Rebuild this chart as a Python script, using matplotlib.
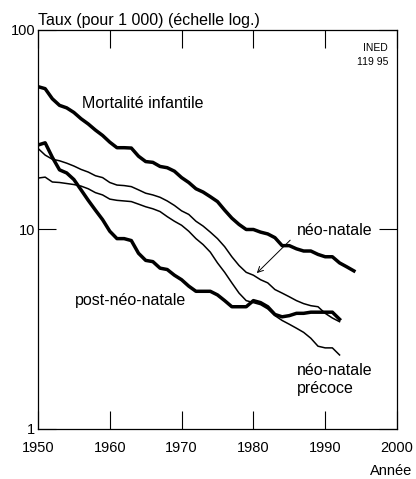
import matplotlib
matplotlib.use('Agg')
import matplotlib.pyplot as plt
from matplotlib.ticker import FixedLocator, NullLocator, FixedFormatter

plt.rcParams['font.family'] = ['Liberation Sans', 'DejaVu Sans']

years_inf = list(range(1950, 1995))
mort_infantile = [52.0, 50.8, 45.2, 41.9, 40.7, 38.6, 35.9, 33.8, 31.5, 29.6,
                  27.4, 25.7, 25.7, 25.6, 23.3, 21.9, 21.7, 20.7, 20.4, 19.6,
                  18.2, 17.2, 16.0, 15.4, 14.6, 13.8, 12.5, 11.4, 10.6, 10.0,
                  10.0, 9.7, 9.5, 9.1, 8.3, 8.3, 8.0, 7.8, 7.8, 7.5,
                  7.3, 7.3, 6.8, 6.5, 6.2]

years = list(range(1950, 1993))
post_neo = [26.5, 27.2, 23.0, 19.9, 19.2, 17.8, 15.8, 14.0, 12.5, 11.2,
            9.8, 9.0, 9.0, 8.8, 7.6, 7.0, 6.9, 6.4, 6.3, 5.9,
            5.6, 5.2, 4.9, 4.9, 4.9, 4.7, 4.4, 4.1, 4.1, 4.1,
            4.4, 4.3, 4.1, 3.75, 3.65, 3.7, 3.8, 3.8, 3.85, 3.85,
            3.85, 3.85, 3.55]
neo = [25.5, 23.6, 22.5, 22.1, 21.5, 20.8, 20.0, 19.4, 18.6, 18.2,
       17.2, 16.7, 16.6, 16.4, 15.8, 15.2, 14.9, 14.5, 13.9, 13.2,
       12.4, 11.9, 11.0, 10.4, 9.7, 9.0, 8.2, 7.3, 6.6, 6.1,
       5.9, 5.6, 5.4, 5.0, 4.8, 4.6, 4.4, 4.25, 4.15, 4.1,
       3.8, 3.6, 3.45]
neo_precoce = [18.1, 18.3, 17.3, 17.2, 17.0, 16.8, 16.5, 16.0, 15.3, 14.9,
               14.2, 14.0, 13.9, 13.8, 13.4, 13.0, 12.7, 12.3, 11.6, 11.0,
               10.5, 9.8, 9.0, 8.4, 7.7, 6.8, 6.1, 5.4, 4.8, 4.4,
               4.3, 4.2, 4.0, 3.7, 3.5, 3.35, 3.2, 3.05, 2.85, 2.6,
               2.55, 2.55, 2.35]

x_ticks = [1950, 1960, 1970, 1980, 1990, 2000]
y_ticks = [1, 10, 100]
y_labels = ['1', '10', '100']

fig = plt.figure(figsize=(4.16, 4.79), dpi=100)
ax = fig.add_axes([0.0913, 0.1044, 0.863, 0.833])

ax.plot(years_inf, mort_infantile, color='black', lw=2.5, solid_joinstyle='round')
ax.plot(years, post_neo, color='black', lw=2.5, solid_joinstyle='round')
ax.plot(years, neo, color='black', lw=1.1)
ax.plot(years, neo_precoce, color='black', lw=1.1)

ax.set_yscale('log')
ax.set_xlim(1950, 2000)
ax.set_ylim(1, 100)
ax.xaxis.set_major_locator(FixedLocator(x_ticks))
ax.xaxis.set_minor_locator(NullLocator())
ax.yaxis.set_major_locator(FixedLocator(y_ticks))
ax.yaxis.set_major_formatter(FixedFormatter(y_labels))
ax.yaxis.set_minor_locator(NullLocator())
ax.tick_params(direction='in', length=13, width=0.8, top=True, right=True,
               labelsize=10.5)
ax.tick_params(axis='x', pad=9)
ax.tick_params(axis='y', pad=2)
for s in ax.spines.values():
    s.set_linewidth(0.9)

ax.text(1956.1, 43, 'Mortalité infantile', fontsize=11.5, va='center', ha='left')
ax.text(1955.1, 4.43, 'post-néo-natale', fontsize=11.5, va='center', ha='left')
ax.text(1986.0, 9.94, 'néo-natale', fontsize=11.5, va='center', ha='left')
ax.text(1986.0, 1.78, 'néo-natale\nprécoce', fontsize=11.5, va='center', ha='left',
        linespacing=1.25)
ax.annotate('', xy=(1980.2, 5.91), xytext=(1985.4, 9.04),
            arrowprops=dict(arrowstyle='->', color='black', lw=0.7))
ax.text(0.975, 0.968, 'INED\n119 95', transform=ax.transAxes, fontsize=7.5,
        ha='right', va='top', linespacing=1.5)

fig.text(0.0913, 0.958, 'Taux (pour 1 000) (échelle log.)', fontsize=11.5,
         ha='left', va='center')
fig.text(0.99, 0.003, 'Année', fontsize=10.5, ha='right', va='bottom')

fig.savefig('out.png', dpi=100)
